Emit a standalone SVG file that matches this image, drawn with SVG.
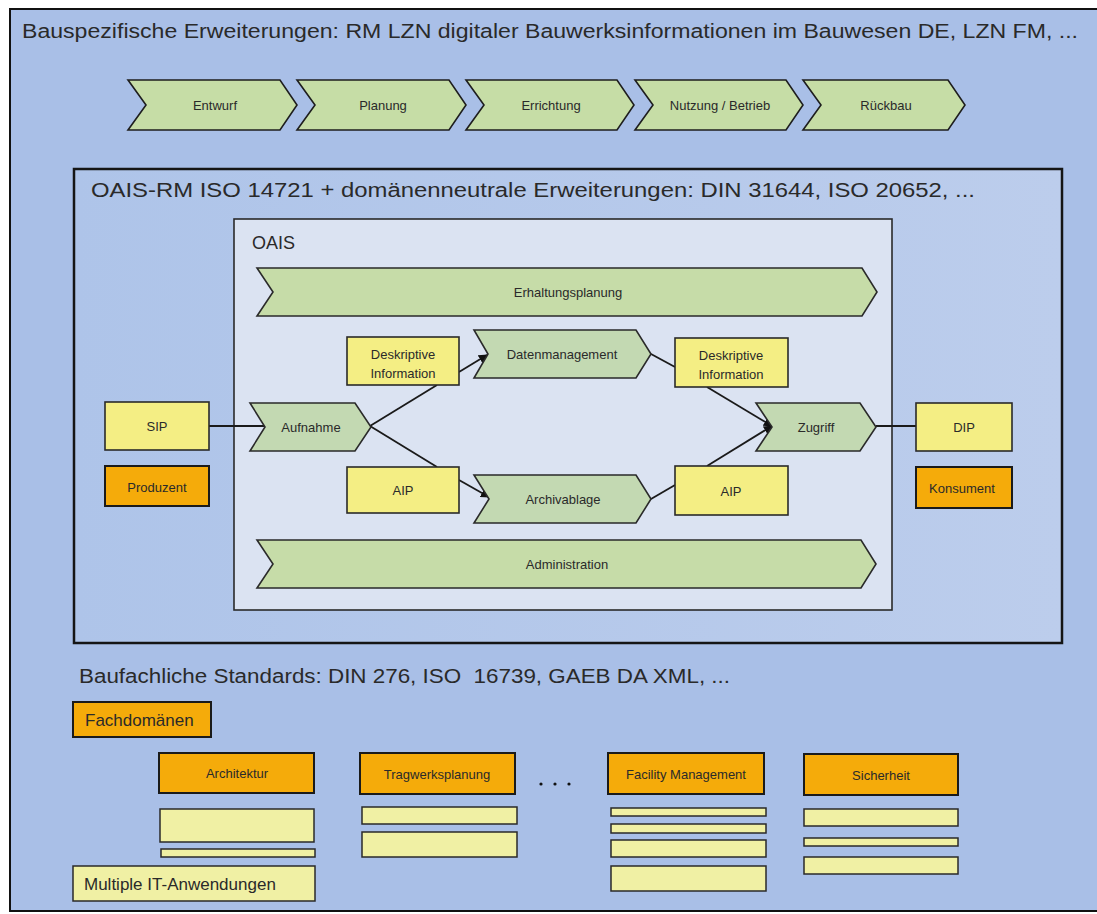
<svg xmlns="http://www.w3.org/2000/svg" width="1097" height="914" viewBox="0 0 1097 914">
<defs>
<style>
.t{font-family:"Liberation Sans","Open Sans",sans-serif;fill:#2a2a2a}
.big{font-size:20px}
.lbl{font-size:13px;text-anchor:middle;dominant-baseline:central}
.chev{fill:#c6dda6;stroke:#1e1e1e;stroke-width:1.6}
.ochev{fill:#c3d9b2;stroke:#2a2a2a;stroke-width:1.6}
.yel{fill:#f4ee84;stroke:#2a2a2a;stroke-width:1.6}
.ly{fill:#f0f0a4;stroke:#2a2a2a;stroke-width:1.5}
.org{fill:#f5ab0a;stroke:#1a1a1a;stroke-width:2}
.conn{stroke:#1a1a1a;stroke-width:1.8;fill:none}
</style>
<marker id="ah" viewBox="0 0 10 10" refX="9" refY="5" markerWidth="5" markerHeight="5" orient="auto">
<path d="M0,0 L10,5 L0,10 z" fill="#111"/>
</marker>
<linearGradient id="rmg" x1="0" y1="0" x2="1" y2="0">
<stop offset="0" stop-color="#aec4e9"/>
<stop offset="1" stop-color="#bccdec"/>
</linearGradient>
</defs>
<rect x="0" y="0" width="1097" height="914" fill="#ffffff"/>
<rect id="outer" x="10" y="9" width="1090" height="902" fill="#a9bfe7" stroke="#111" stroke-width="2"/>
<text class="t big" x="22" y="38" textLength="1056" lengthAdjust="spacingAndGlyphs">Bauspezifische Erweiterungen: RM LZN digitaler Bauwerksinformationen im Bauwesen DE, LZN FM, ...</text>

<g id="phase-entwurf"><polygon class="chev" points="128,80 280,80 297,105 280,130 128,130 146,105"/><text class="t lbl" x="215" y="105">Entwurf</text></g>
<g id="phase-planung"><polygon class="chev" points="297,80 449,80 466,105 449,130 297,130 315,105"/><text class="t lbl" x="383" y="105">Planung</text></g>
<g id="phase-errichtung"><polygon class="chev" points="466,80 617,80 634,105 617,130 466,130 484,105"/><text class="t lbl" x="551" y="105">Errichtung</text></g>
<g id="phase-nutzung"><polygon class="chev" points="635,80 786,80 803,105 786,130 635,130 653,105"/><text class="t lbl" x="720" y="105">Nutzung / Betrieb</text></g>
<g id="phase-rueckbau"><polygon class="chev" points="803,80 948,80 965,105 948,130 803,130 821,105"/><text class="t lbl" x="886" y="105">Rückbau</text></g>

<g id="oais-rm">
<rect x="74" y="169" width="988" height="474" fill="url(#rmg)" stroke="#151515" stroke-width="2.5"/>
<text class="t big" x="91" y="197" textLength="884" lengthAdjust="spacingAndGlyphs">OAIS-RM ISO 14721 + domänenneutrale Erweiterungen: DIN 31644, ISO 20652, ...</text>
</g>
<g id="oais">
<rect x="234" y="219" width="658" height="391" fill="#dbe3f2" stroke="#2a2a2a" stroke-width="1.6"/>
<text class="t" x="252" y="249" font-size="18">OAIS</text>
</g>

<g id="erhaltungsplanung"><polygon class="ochev" points="257,268 862,268 877,292 862,316 257,316 273,292" style="fill:#c6dca8"/><text class="t lbl" x="568" y="292">Erhaltungsplanung</text></g>
<g id="administration"><polygon class="ochev" points="257,540 861,540 876,564 861,588 257,588 273,564" style="fill:#c6dca8"/><text class="t lbl" x="567" y="564">Administration</text></g>

<g id="connectors">
<line class="conn" x1="209" y1="426" x2="265" y2="426"/>
<line class="conn" x1="370" y1="426" x2="437" y2="385"/>
<line class="conn" x1="459" y1="372" x2="487" y2="355" marker-end="url(#ah)"/>
<line class="conn" x1="370" y1="426" x2="437" y2="467"/>
<line class="conn" x1="459" y1="480" x2="489" y2="497" marker-end="url(#ah)"/>
<line class="conn" x1="651" y1="354" x2="675" y2="367"/>
<line class="conn" x1="707" y1="387" x2="772" y2="426" marker-end="url(#ah)"/>
<line class="conn" x1="651" y1="499" x2="675" y2="485"/>
<line class="conn" x1="707" y1="466" x2="772" y2="426" marker-end="url(#ah)"/>
<line class="conn" x1="876" y1="426" x2="916" y2="426"/>
</g>

<g id="sip"><rect class="yel" x="105" y="402" width="104" height="48"/><text class="t lbl" x="157" y="426">SIP</text></g>
<g id="produzent"><rect class="org" x="105" y="466" width="104" height="40"/><text class="t lbl" x="157" y="487">Produzent</text></g>
<g id="aufnahme"><polygon class="ochev" points="250,403 355,403 371,427 355,451 250,451 265,427"/><text class="t lbl" x="311" y="427">Aufnahme</text></g>
<g id="desk-info-1"><rect class="yel" x="347" y="337" width="112" height="48"/><text class="t lbl" x="403" y="354">Deskriptive</text><text class="t lbl" x="403" y="373">Information</text></g>
<g id="aip-1"><rect class="yel" x="347" y="467" width="112" height="46"/><text class="t lbl" x="403" y="490">AIP</text></g>
<g id="datenmanagement"><polygon class="ochev" points="474,330 636,330 651,354 636,378 474,378 488,354"/><text class="t lbl" x="562" y="354">Datenmanagement</text></g>
<g id="archivablage"><polygon class="ochev" points="474,475 636,475 651,499 636,523 474,523 489,499"/><text class="t lbl" x="563" y="499">Archivablage</text></g>
<g id="desk-info-2"><rect class="yel" x="675" y="338" width="113" height="49"/><text class="t lbl" x="731" y="355">Deskriptive</text><text class="t lbl" x="731" y="374">Information</text></g>
<g id="aip-2"><rect class="yel" x="675" y="466" width="113" height="49"/><text class="t lbl" x="731" y="491">AIP</text></g>
<g id="zugriff"><polygon class="ochev" points="756,403 860,403 876,427 860,451 756,451 772,427"/><text class="t lbl" x="816" y="427">Zugriff</text></g>
<g id="dip"><rect class="yel" x="916" y="403" width="96" height="48"/><text class="t lbl" x="964" y="427">DIP</text></g>
<g id="konsument"><rect class="org" x="916" y="467" width="96" height="41"/><text class="t lbl" x="962" y="488">Konsument</text></g>

<text class="t big" x="79" y="683" style="white-space:pre" textLength="651" lengthAdjust="spacingAndGlyphs">Baufachliche Standards: DIN 276, ISO  16739, GAEB DA XML, ...</text>

<g id="fachdomaenen"><rect class="org" x="73" y="702" width="138" height="35"/><text class="t" x="85" y="726" font-size="17">Fachdomänen</text></g>

<g id="architektur">
<rect class="org" x="159" y="753" width="155" height="40"/><text class="t lbl" x="237" y="773">Architektur</text>
<rect class="ly" x="160" y="809" width="154" height="33"/>
<rect class="ly" x="161" y="849" width="154" height="8"/>
</g>
<g id="tragwerksplanung">
<rect class="org" x="360" y="753" width="155" height="41"/><text class="t lbl" x="437" y="774">Tragwerksplanung</text>
<rect class="ly" x="362" y="807" width="155" height="17"/>
<rect class="ly" x="362" y="832" width="155" height="25"/>
</g>
<g id="ellipsis">
<circle cx="541" cy="784" r="1.6" fill="#111"/>
<circle cx="555" cy="784" r="1.6" fill="#111"/>
<circle cx="569" cy="784" r="1.6" fill="#111"/>
</g>
<g id="facility-management">
<rect class="org" x="608" y="753" width="156" height="41"/><text class="t lbl" x="686" y="774">Facility Management</text>
<rect class="ly" x="611" y="808" width="155" height="8"/>
<rect class="ly" x="611" y="824" width="155" height="9"/>
<rect class="ly" x="611" y="840" width="155" height="17"/>
<rect class="ly" x="611" y="866" width="155" height="25"/>
</g>
<g id="sicherheit">
<rect class="org" x="804" y="754" width="154" height="41"/><text class="t lbl" x="881" y="775">Sicherheit</text>
<rect class="ly" x="804" y="809" width="154" height="17"/>
<rect class="ly" x="804" y="838" width="154" height="8"/>
<rect class="ly" x="804" y="857" width="154" height="17"/>
</g>
<g id="multiple-it"><rect class="ly" x="73" y="866" width="242" height="35"/><text class="t" x="84" y="890" font-size="17">Multiple IT-Anwendungen</text></g>
</svg>
